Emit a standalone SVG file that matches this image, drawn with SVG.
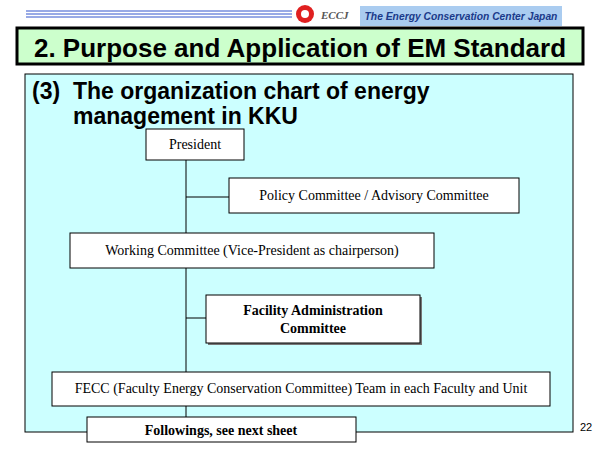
<svg xmlns="http://www.w3.org/2000/svg" width="600" height="450" viewBox="0 0 600 450">
<style>
.b{fill:#fff;stroke:#000;stroke-width:1}
.t{font-family:"Liberation Serif",serif;font-size:14px;text-anchor:middle}
.h{font-family:"Liberation Sans",Arial,sans-serif;font-weight:bold}
</style>
<rect width="600" height="450" fill="#fff"/>
<g stroke="#3355cc" stroke-width="1">
<line x1="26" y1="11" x2="292" y2="11"/><line x1="26" y1="14" x2="292" y2="14"/><line x1="26" y1="17" x2="292" y2="17"/>
</g>
<circle cx="305" cy="14" r="9" fill="#e02020"/><circle cx="305" cy="14" r="4" fill="#fff"/>
<text x="321" y="19" font-family="Liberation Serif,serif" font-style="italic" font-weight="bold" font-size="11" fill="#555">ECCJ</text>
<rect x="360" y="6" width="202" height="20" fill="#aaccf0"/>
<text x="461" y="20" text-anchor="middle" font-family="Liberation Sans,sans-serif" font-style="italic" font-weight="bold" font-size="10.3" fill="#1a3a8a">The Energy Conservation Center Japan</text>
<rect x="17" y="28" width="566" height="36" fill="#ccffcc" stroke="#000" stroke-width="3"/>
<text x="300" y="57" text-anchor="middle" class="h" font-size="26">2. Purpose and Application of EM Standard</text>
<rect x="25" y="74" width="548" height="358" fill="#ccffff" stroke="#000" stroke-width="1"/>
<text x="32" y="99" class="h" font-size="23">(3)</text>
<text x="73" y="99" class="h" font-size="23">The organization chart of energy</text>
<text x="73" y="124" class="h" font-size="23">management in KKU</text>
<text x="580" y="431" font-family="Liberation Sans,sans-serif" font-size="11">22</text>
<g id="connectors" stroke="#000" stroke-width="1">
<line x1="186" y1="160" x2="186" y2="420"/>
<line x1="186" y1="197" x2="229" y2="197"/>
<line x1="186" y1="318" x2="206" y2="318"/>
</g>
<g id="president"><rect class="b" x="146" y="129" width="98" height="31"/><text class="t" x="195" y="149">President</text></g>
<g id="policy"><rect class="b" x="229" y="178" width="290" height="35"/><text class="t" x="374" y="200">Policy Committee / Advisory Committee</text></g>
<g id="working"><rect class="b" x="70" y="233" width="364" height="35"/><text class="t" x="252" y="255">Working Committee (Vice-President as chairperson)</text></g>
<g id="facility"><rect x="208" y="297" width="214" height="48" fill="#777"/><rect class="b" x="206" y="295" width="214" height="48"/><text class="t" x="313" y="315" font-weight="bold" font-size="15">Facility Administration</text><text class="t" x="313" y="333" font-weight="bold" font-size="15">Committee</text></g>
<g id="fecc"><rect class="b" x="52" y="372" width="498" height="34"/><text class="t" x="301" y="393">FECC (Faculty Energy Conservation Committee) Team in each Faculty and Unit</text></g>
<g id="followings"><rect class="b" x="87" y="417" width="269" height="25"/><text class="t" x="221" y="435" font-weight="bold">Followings, see next sheet</text></g>
</svg>
